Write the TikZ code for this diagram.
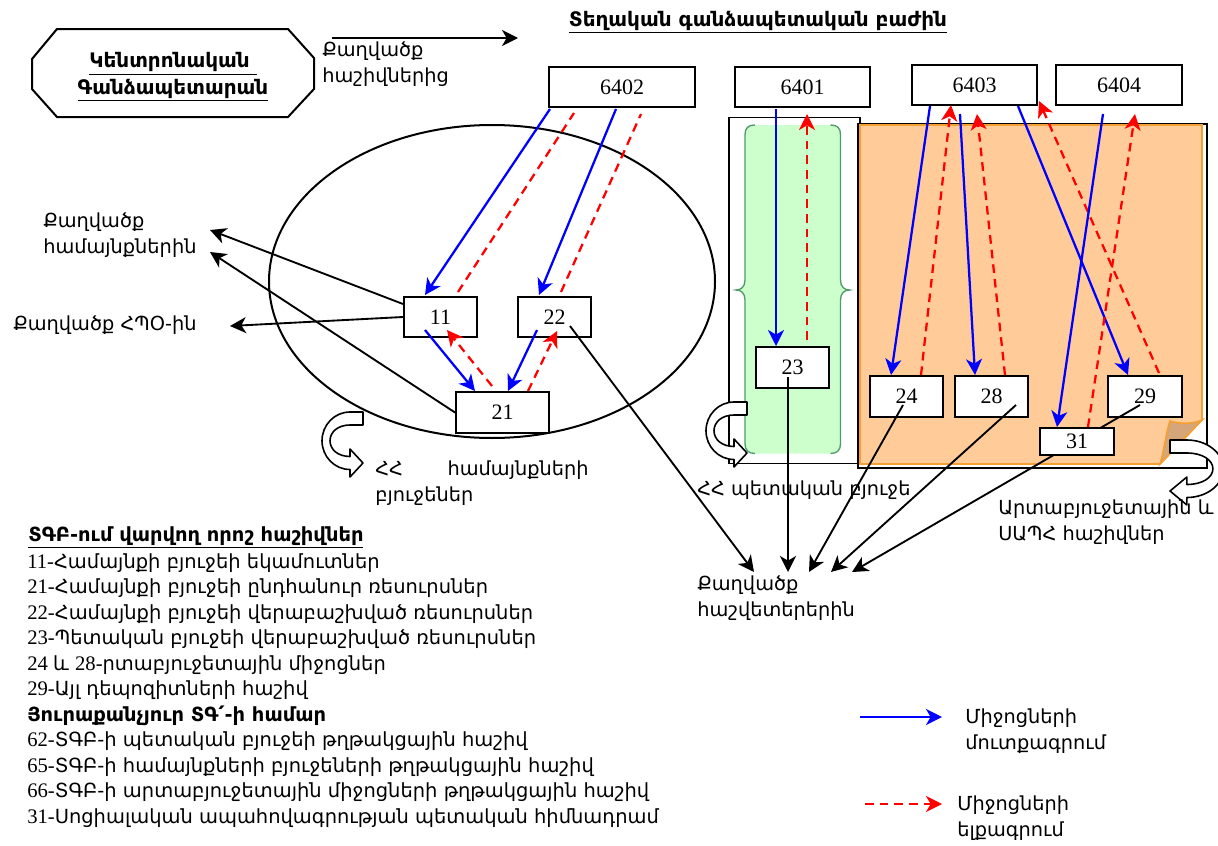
\documentclass[tikz,border=0pt]{standalone}
\usepackage{fontspec}
\setmainfont{DejaVu Sans}
\newfontfamily\tnr{Liberation Serif}
\usetikzlibrary{arrows.meta,calc}
\newlength\pxu \setlength\pxu{0.75pt}
\newcommand\dNum{\tnr\fontsize{16.5}{18}\selectfont}
\newcommand\dLab{\fontsize{14.5}{19.5}\selectfont}
\newcommand\dLeg{\rmfamily\fontsize{14.6}{19}\selectfont}
\newcommand\dLegN{\tnr\fontsize{15.5}{19}\selectfont}
\newcommand\dHead{\bfseries\fontsize{15}{20}\selectfont}
\definecolor{peach}{HTML}{FFCC99}
\definecolor{peachline}{HTML}{F5A030}
\definecolor{fold}{HTML}{D5A679}
\definecolor{mint}{HTML}{CCFFCC}
\definecolor{mintline}{HTML}{4E9A6A}
\pgfdeclarelayer{fills}
\pgfsetlayers{fills,main}

% U-turn block arrow; (0,0) is the outer corner of the tail
\newcommand\uturn[3]{%
  \begin{scope}[shift={(#1,#2)},xscale=#3]
    \draw[line width=1.2pt,fill=white,line join=round]
      (0,0) -- (-13,0) .. controls (-28.5,0) and (-41,12.9) .. (-41,28.75)
      .. controls (-41,44.6) and (-28.5,57.5) .. (-13,57.5) -- (-13,65) -- (0,51)
      -- (-13,37) -- (-13,44.5) .. controls (-25,44.5) and (-33,37.5) .. (-33,28.75)
      .. controls (-33,20) and (-25,13) .. (-13,13) -- (0,13) -- cycle;
  \end{scope}}

\begin{document}
\begin{tikzpicture}[x=0.75pt,y=-0.75pt,
  box/.style={draw,line width=1.5pt,fill=white,inner sep=0pt,font=\dNum},
  lab/.style={font=\dLab,align=left,inner sep=0pt,anchor=west},
  tip/.style={-{Stealth[length=12pt,width=12pt,inset=3.5pt]}},
  inflow/.style={draw=blue,line width=1.7pt,tip},
  outline/.style={draw=red,line width=1.7pt,dash pattern=on 6.5pt off 4.5pt},
  outflow/.style={outline,tip},
  report/.style={draw=black,line width=1.4pt,tip},
  legrow/.style={anchor=base west,inner sep=0pt}]
\useasboundingbox (0,0) rectangle (1218,846);

% ---------- background areas ----------
\begin{pgfonlayer}{fills}
  % community budgets
  \draw[line width=1.5pt] (492,281.5) ellipse [x radius=223, y radius=156.5];
  % state budget column
  \draw[line width=1.2pt,fill=white] (729,117.5) rectangle (860,463.6);
  \fill[mint] (755,125) .. controls (748,125) and (745,128) .. (745,135) -- (745,280)
     .. controls (745,287) and (741,290) .. (736,290) .. controls (741,290) and (745,293) .. (745,300)
     -- (745,443.5) .. controls (745,450) and (748,453.5) .. (755,453.5) -- (830.5,453.5)
     .. controls (837.5,453.5) and (840.5,450) .. (840.5,443.5) -- (840.5,300)
     .. controls (840.5,293) and (844.5,290) .. (849.5,290) .. controls (844.5,290) and (840.5,287) .. (840.5,280)
     -- (840.5,135) .. controls (840.5,128) and (837.5,125) .. (830.5,125) -- cycle;
  \draw[mintline,line width=1pt] (755,125) .. controls (748,125) and (745,128) .. (745,135) -- (745,280)
     .. controls (745,287) and (741,290) .. (736,290) .. controls (741,290) and (745,293) .. (745,300)
     -- (745,443.5) .. controls (745,450) and (748,453.5) .. (755,453.5);
  \draw[mintline,line width=1pt] (830.5,125) .. controls (837.5,125) and (840.5,128) .. (840.5,135) -- (840.5,280)
     .. controls (840.5,287) and (844.5,290) .. (849.5,290) .. controls (844.5,290) and (840.5,293) .. (840.5,300)
     -- (840.5,443.5) .. controls (840.5,450) and (837.5,453.5) .. (830.5,453.5);
  % extra-budgetary area with folded corner
  \draw[line width=1.5pt] (858,123.6) rectangle (1207,467.7);
  \draw[peachline,fill=peach,line width=1.2pt] (860,125) -- (1202,125) -- (1202,420) -- (1160,464) -- (860,464) -- cycle;
  \draw[peachline,fill=fold,line width=1.2pt] (1160,464) .. controls (1165,447) and (1166,432) .. (1170,421)
     .. controls (1184,425) and (1195,423) .. (1202,420) -- cycle;
\end{pgfonlayer}

% ---------- central treasury ----------
\draw[line width=1.5pt] (57,29) -- (288,29) -- (314,58) -- (314,89) -- (288,117) -- (57,117) -- (32,89) -- (32,59) -- cycle;
\node[font=\dHead,align=center,inner sep=0pt] (cgt) at (173,77)
  {\underline{Կենտրոնական }\\\underline{Գանձապետարան}};
\coordinate (topS) at (332,38);
\coordinate (topE) at (518,38);
\draw[report] (topS) -- (topE);
\node[lab] (lblTop) at (322,64) {Քաղվածք\\հաշիվներից};
\node[font=\dHead,inner sep=0pt] (title) at (758,22) {\underline{Տեղական գանձապետական բաժին}};

% ---------- block arrows ----------
\uturn{363}{412}{1}
\uturn{747}{402}{1}
\uturn{1170}{440}{-1.3}

% ---------- accounts ----------
\node[box,minimum width=146\pxu,minimum height=40\pxu] (b6402) at (622,87) {6402};
\node[box,minimum width=135\pxu,minimum height=40\pxu] (b6401) at (802.5,87) {6401};
\node[box,minimum width=125\pxu,minimum height=40\pxu] (b6403) at (974.5,85) {6403};
\node[box,minimum width=126\pxu,minimum height=40\pxu] (b6404) at (1119,85) {6404};
\node[box,minimum width=73\pxu,minimum height=40\pxu] (b11) at (440.5,317) {11};
\node[box,minimum width=73\pxu,minimum height=40\pxu] (b22) at (554.5,317) {22};
\node[box,minimum width=93\pxu,minimum height=41\pxu] (b21) at (502.5,412.5) {21};
\node[box,minimum width=73\pxu,minimum height=41\pxu] (b23) at (792.5,367.5) {23};
\node[box,minimum width=73\pxu,minimum height=41\pxu] (b24) at (906.5,396.5) {24};
\node[box,minimum width=73\pxu,minimum height=41\pxu] (b28) at (991.5,396.5) {28};
\node[box,minimum width=74\pxu,minimum height=41\pxu] (b29) at (1145,396.5) {29};

% ---------- labels ----------
\node[lab] (lblHam) at (43,235) {Քաղվածք\\համայնքներին};
\node[lab] (lblHpo) at (13,325) {Քաղվածք ՀՊՕ-ին};
\node[lab,text width=160pt] (lblComm) at (375,483) {ՀՀ\hfill համայնքների\\բյուջեներ};
\node[lab] (lblState) at (697,490) {ՀՀ պետական բյուջե};
\node[lab] (lblRep) at (697,598) {Քաղվածք\\հաշվետերերին};
\node[lab] (lblExtra) at (998,522) {Արտաբյուջետային և\\ՍԱՊՀ հաշիվներ};

\coordinate (tHam1) at (210,230);
\coordinate (tHam2) at (210,252);
\coordinate (tHpo) at (230,326);
\coordinate (tRep1) at (754,572);
\coordinate (tRep2) at (788,572);
\coordinate (tRep3) at (809,572);
\coordinate (tRep4) at (831,572);
\coordinate (tRep5) at (852,572);

% ---------- statements ----------
\draw[report] ($(b11.north west)+(0,8)$) -- (tHam1);
\draw[report] (b21.west) -- (tHam2);
\draw[report] (b11.west) -- (tHpo);
\draw[report] ($(b22.center)+(15.5,9)$) -- (tRep1);
\draw[report] ($(b23.center)+(-4.5,9.5)$) -- (tRep2);
\draw[report] ($(b24.center)+(-3.5,8.5)$) -- (tRep3);
\draw[report] ($(b28.center)+(24.5,8.5)$) -- (tRep4);
\draw[report] ($(b29.center)+(-5,8.5)$) -- (tRep5);

% ---------- receipts (blue) ----------
\draw[inflow] ($(b6402.south west)+(2,1)$) -- ($(b11.north west)+(22,-1)$);
\draw[inflow] ($(b6402.south west)+(68,1)$) -- ($(b22.north west)+(22,-1)$);
\draw[inflow] ($(b11.south west)+(22,-8)$) -- ($(b21.north west)+(20,0)$);
\draw[inflow] ($(b22.south west)+(20,-8)$) -- ($(b21.north west)+(53,0)$);
\draw[inflow] ($(b6401.south west)+(42,1)$) -- ($(b23.north west)+(21,0)$);
\draw[inflow] ($(b6403.south west)+(19,0)$) -- ($(b24.north west)+(22,0)$);
\draw[inflow] ($(b6403.south west)+(49,8)$) -- ($(b28.north west)+(21,0)$);
\draw[inflow] ($(b6403.south west)+(107,0)$) -- ($(b29.north west)+(21,0)$);

% ---------- payments (red) ----------
\draw[outline] ($(b11.north west)+(55,-4)$) -- ($(b6402.south west)+(26,5)$);
\draw[outline] ($(b22.north west)+(44,-4)$) -- ($(b6402.south west)+(93,6)$);
\draw[outflow] ($(b21.north west)+(37,-5)$) -- ($(b11.south west)+(44,-8)$);
\draw[outflow] ($(b21.north west)+(73,0)$) -- ($(b22.south west)+(40,-7)$);
\draw[outflow] ($(b23.north west)+(52,-6)$) -- ($(b6401.south west)+(73,6)$);
\draw[outflow] ($(b24.north west)+(52,0)$) -- ($(b6403.south west)+(40,-1)$);
\draw[outflow] ($(b28.north west)+(51,0)$) -- ($(b6403.south west)+(66,8)$);
\draw[outflow] ($(b29.north west)+(52,-2)$) -- ($(b6403.south east)+(1,-5)$);

% social insurance fund account
\node[box,minimum width=74\pxu,minimum height=27\pxu] (b31) at (1077,441.5) {31};
\draw[inflow] ($(b6404.south west)+(48,8)$) -- ($(b31.north west)+(18,0)$);
\draw[outflow] ($(b31.north west)+(49,0)$) -- ($(b6404.south west)+(80,8)$);

% ---------- key ----------
\node[legrow,font=\bfseries\dLeg] (k0) at (28,541) {\underline{ՏԳԲ-ում վարվող որոշ հաշիվներ}};
\node[legrow] (k1) at (27,568) {\dLegN 11-\dLeg Համայնքի բյուջեի եկամուտներ};
\node[legrow] (k2) at (27,593.5) {\dLegN 21-\dLeg Համայնքի բյուջեի ընդհանուր ռեսուրսներ};
\node[legrow] (k3) at (27,619) {\dLegN 22-\dLeg Համայնքի բյուջեի վերաբաշխված ռեսուրսներ};
\node[legrow] (k4) at (27,644.5) {\dLegN 23-\dLeg Պետական բյուջեի վերաբաշխված ռեսուրսներ};
\node[legrow] (k5) at (27,670) {\dLegN 24 \dLeg և \dLegN 28-\dLeg րտաբյուջետային միջոցներ};
\node[legrow] (k6) at (27,695.5) {\dLegN 29-\dLeg Այլ դեպոզիտների հաշիվ};
\node[legrow,font=\bfseries\dLeg] (k7) at (27,721) {Յուրաքանչյուր ՏԳ՛-ի համար};
\node[legrow] (k8) at (27,746.5) {\dLegN 62-\dLeg ՏԳԲ-ի պետական բյուջեի թղթակցային հաշիվ};
\node[legrow] (k9) at (27,772) {\dLegN 65-\dLeg ՏԳԲ-ի համայնքների բյուջեների թղթակցային հաշիվ};
\node[legrow] (k10) at (27,797.5) {\dLegN 66-\dLeg ՏԳԲ-ի արտաբյուջետային միջոցների թղթակցային հաշիվ};
\node[legrow] (k11) at (27,823) {\dLegN 31-\dLeg Սոցիալական ապահովագրության պետական հիմնադրամ};

\coordinate (lgA1) at (860,717);
\coordinate (lgA2) at (942,717);
\coordinate (lgB1) at (865,804);
\coordinate (lgB2) at (942,804);
\draw[inflow] (lgA1) -- (lgA2);
\draw[outflow] (lgB1) -- (lgB2);
\node[lab] (legIn) at (965,731) {Միջոցների\\մուտքագրում};
\node[lab] (legOut) at (957,818) {Միջոցների\\ելքագրում};
\end{tikzpicture}
\end{document}
